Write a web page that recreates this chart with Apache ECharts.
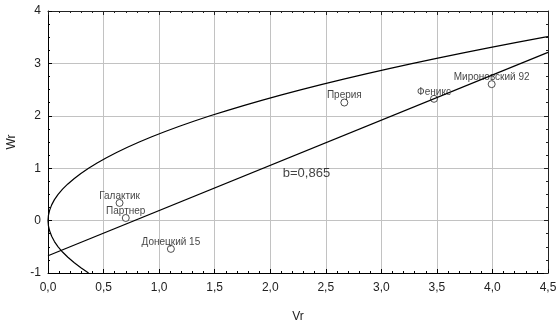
<!DOCTYPE html>
<html>
<head>
<meta charset="utf-8">
<script src="https://cdn.jsdelivr.net/npm/echarts@6/dist/echarts.min.js"></script>
<style>
  html, body { margin: 0; padding: 0; background: #fff; }
  #chart { width: 557px; height: 324px; }
</style>
</head>
<body>
<div id="chart"></div>
<script>
// cultivars (Vr, Wr)
const names = ['Галактик', 'Партнер', 'Донецкий 15', 'Прерия', 'Феникс', 'Мироновский 92'];
const vr = [0.644, 0.70, 1.106, 2.667, 3.474, 3.993];
const wr = [0.337, 0.05, -0.54, 2.253, 2.324, 2.604];

// regression line, b=0,865
const lineVr = [0, 4.5];
const lineWr = [-0.67, 3.21];

// limiting parabola, points
const curveWr = [-1.0, -0.9, -0.8, -0.7, -0.6, -0.5, -0.4, -0.3, -0.2, -0.1, 0.0, 0.1, 0.2, 0.3, 0.4, 0.5, 0.6, 0.7, 0.8, 0.9, 1.0,
    1.1, 1.2, 1.3, 1.4, 1.5, 1.6, 1.7, 1.8, 1.9, 2.0, 2.1, 2.2, 2.3, 2.4, 2.5, 2.6, 2.7, 2.8, 2.9, 3.0, 3.1, 3.2, 3.3, 3.4, 3.5, 3.51];
const curveVr = [0.365, 0.296, 0.234, 0.179, 0.131, 0.091, 0.058, 0.033, 0.015, 0.004, 0.0, 0.004, 0.015, 0.033, 0.058, 0.091, 0.131, 0.179, 0.234, 0.296, 0.365,
    0.442, 0.526, 0.617, 0.715, 0.821, 0.934, 1.055, 1.183, 1.318, 1.46, 1.61, 1.767, 1.931, 2.102, 2.281, 2.467, 2.661, 2.862, 3.07, 3.285, 3.508, 3.738, 3.975, 4.219, 4.471, 4.5];

const bLabel = 'b=0,865';
const bPos = [2.113, 0.909];

const font = "'Liberation Sans', Arial, sans-serif";
const gridColor = '#c2c2c2';
const chart = echarts.init(document.getElementById('chart'));

const fmtX = v => v.toFixed(1).replace('.', ',');
const fmtY = v => String(v);

// top / right frame with mirrored ticks
const frameAxis = (pos, min, max, interval, minorSplit) => ({
    type: 'value',
    position: pos,
    min: min,
    max: max,
    interval: interval,
    axisLine: { show: true, onZero: false, lineStyle: { color: '#222', width: 1 } },
    axisTick: { show: true, inside: true, length: 4, lineStyle: { color: '#222' } },
    minorTick: { show: true, splitNumber: minorSplit, length: 2, lineStyle: { color: '#222' } },
    axisLabel: { show: false },
    splitLine: { show: false }
});

const option = {
    animation: false,
    backgroundColor: '#fff',
    grid: { left: 48, right: 9, top: 11, bottom: 51, outerBoundsMode: 'none' },
    xAxis: [
        {
            type: 'value',
            min: 0,
            max: 4.5,
            interval: 0.5,
            name: 'Vr',
            nameLocation: 'middle',
            nameGap: 38,
            nameTextStyle: { color: '#222', fontSize: 12, fontFamily: font },
            axisLine: { show: true, onZero: false, lineStyle: { color: '#000', width: 1 } },
            axisTick: { show: true, inside: true, length: 4, lineStyle: { color: '#000' } },
            minorTick: { show: true, splitNumber: 5, length: 2, lineStyle: { color: '#000' } },
            axisLabel: { color: '#222', fontSize: 12, fontFamily: font, margin: 9, formatter: fmtX },
            splitLine: { show: true, lineStyle: { color: gridColor, width: 1 } }
        },
        frameAxis('top', 0, 4.5, 0.5, 5)
    ],
    yAxis: [
        {
            type: 'value',
            min: -1,
            max: 4,
            interval: 1,
            name: 'Wr',
            nameLocation: 'middle',
            nameGap: 30,
            nameTextStyle: { color: '#222', fontSize: 12, fontFamily: font },
            axisLine: { show: true, onZero: false, lineStyle: { color: '#000', width: 1 } },
            axisTick: { show: true, inside: true, length: 4, lineStyle: { color: '#000' } },
            minorTick: { show: true, splitNumber: 4, length: 2, lineStyle: { color: '#000' } },
            axisLabel: { color: '#222', fontSize: 12, fontFamily: font, margin: 7, formatter: fmtY },
            splitLine: { show: true, lineStyle: { color: gridColor, width: 1 } }
        },
        frameAxis('right', -1, 4, 1, 4)
    ],
    series: [
        {
            type: 'line',
            data: curveVr.map((x, i) => [x, curveWr[i]]),
            showSymbol: false,
            lineStyle: { color: '#000', width: 1.2 },
            silent: true
        },
        {
            type: 'line',
            data: lineVr.map((x, i) => [x, lineWr[i]]),
            showSymbol: false,
            lineStyle: { color: '#000', width: 1.2 },
            silent: true
        },
        {
            type: 'scatter',
            data: names.map((n, i) => ({ name: n, value: [vr[i], wr[i]] })),
            symbol: 'circle',
            symbolSize: 7,
            itemStyle: { color: '#fff', borderColor: '#222', borderWidth: 1 },
            label: {
                show: true,
                position: 'top',
                distance: -2,
                formatter: '{b}',
                color: '#111',
                fontSize: 10,
                fontFamily: font
            },
            silent: true
        },
        {
            type: 'scatter',
            data: [{ name: bLabel, value: bPos }],
            symbolSize: 0,
            label: {
                show: true,
                position: 'right',
                distance: 0,
                formatter: '{b}',
                color: '#111',
                fontSize: 13,
                fontFamily: font
            },
            silent: true
        }
    ]
};

chart.setOption(option);
</script>
</body>
</html>
